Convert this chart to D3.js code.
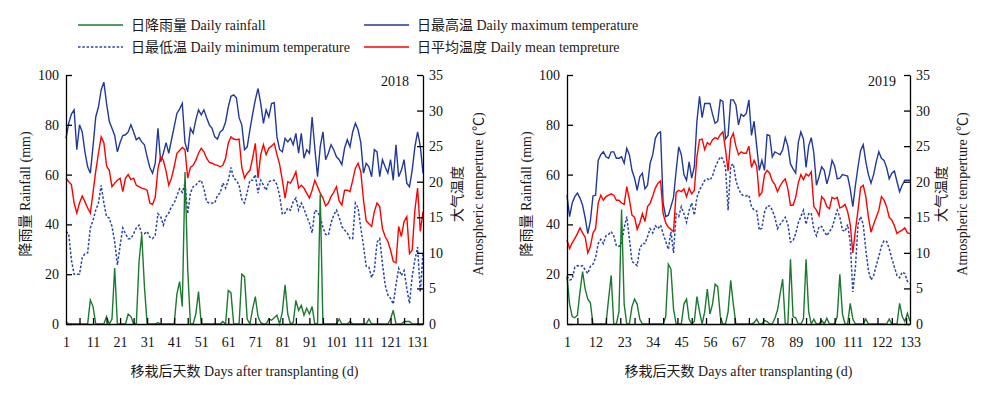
<!DOCTYPE html>
<html>
<head>
<meta charset="utf-8">
<title>Daily rainfall and temperature 2018 / 2019</title>
<script src="https://d3js.org/d3.v7.min.js"></script>
<style>
	body { margin: 0; background: #fff; }
	svg { display: block; font-family: "Liberation Serif", "Times New Roman", "Noto Sans CJK SC", serif; font-size: 14px; }
	.axis path, .axis line { stroke: #000; stroke-width: 1.3; }
	.axis text { font-family: "Liberation Serif", "Times New Roman", serif; font-size: 14px; fill: #111; }
	.lbl { fill: #1a1a1a; }
</style>
</head>
<body>
<svg id="chart" width="1000" height="397"></svg>
<script>
	// 2018 season, days after transplanting 1..133
	var rain18 = [1,0,0,0,0,0,0,0,0,9.6, 7,0,0,0,0,3,0,2,22.5,0, 0,0,0,4,3,0,0,25,36,15,
		0,0,0,0,0.5,0,0,0,0,0, 0,12,17,7,61,22,0,0,4,13, 0,0,0,0,0,0,0,0,1,0,
		13.5,12.5,0,0,0,20,19,2,0,6, 11,3,0.5,0,0,2,1.5,2.5,3.5,0, 5,15.7,4,0,0.5,9.5,5.5,7.5,3.5,6.3,
		4,7,0,0,52,0,0,0,0,0, 0,2,0,0,0,1,0,0,0,0, 0,0,2,0,0,0,0,0,0,0,
		2,5.5,0,0,0,1,1,1,0,0, 0,0,0];
	var tmax18 = [26.1,28.2,29.5,30.1,24.5,28.0,27.0,24.2,22.1,21.2, 25.0,29.1,30.5,32.9,34.0,31.0,28.5,27.5,26.5,24.2,
		25.5,26.5,26.6,27.0,28.0,27.0,25.9,26.2,25.6,25.2, 23.5,22.0,21.2,22.6,27.5,22.8,24.0,25.5,24.0,25.9,
		27.7,29.6,30.2,31.0,25.5,24.2,27.5,26.8,28.7,30.1, 29.4,30.1,29.0,28.0,27.5,26.3,26.0,27.0,27.3,28.4,
		30.5,32.0,32.2,31.8,29.0,28.0,24.5,24.9,27.3,29.5, 31.5,33.1,31.0,28.2,30.1,29.1,31.0,31.1,26.3,24.5,
		24.2,26.1,25.6,26.1,25.2,26.8,24.0,26.8,23.3,24.5, 24.0,29.1,24.7,20.7,24.9,27.0,23.1,24.0,25.2,24.5,
		23.5,23.1,22.4,24.7,25.9,24.9,27.0,28.2,27.3,25.5, 21.2,22.6,22.1,20.7,24.5,24.2,20.7,23.1,22.1,21.2,
		23.1,20.2,25.2,20.7,21.6,23.1,19.8,19.3,21.6,24.9, 27.0,25.0,21.2];
	var tmin18 = [13.0,12.7,9.0,7.0,7.0,7.0,9.3,9.9,10.0,13.5, 14.6,16.0,17.0,19.5,17.0,15.1,14.9,13.7,11.6,8.3,
		11.0,13.5,12.7,12.0,12.0,12.7,13.5,13.9,12.7,12.7, 13.0,12.2,12.0,12.5,15.5,15.1,13.9,15.1,15.6,16.5,
		17.0,18.0,19.0,18.5,19.8,15.5,18.4,19.3,19.5,20.0, 20.2,19.0,17.2,17.0,17.0,17.0,18.1,18.4,19.8,19.1,
		20.2,22.0,20.5,20.2,19.5,17.5,17.0,18.5,20.2,20.2, 21.0,18.4,20.2,19.5,18.8,20.0,20.2,20.2,19.6,18.0,
		15.4,15.6,16.3,16.0,17.2,17.7,16.0,17.0,16.2,15.1, 14.2,12.8,16.0,15.8,15.0,13.6,12.6,12.5,14.2,15.3,
		16.0,15.0,13.7,13.2,12.8,12.0,12.0,17.0,16.3,13.5, 11.0,8.1,8.0,6.5,7.5,11.5,12.0,8.5,5.5,4.1,
		3.6,2.8,5.5,7.8,6.8,7.5,5.0,2.9,6.7,9.0, 10.8,4.5,10.0];
	var tmean18 = [20.5,20.0,19.6,17.0,15.6,17.0,18.0,17.2,16.3,15.6, 18.5,21.5,24.0,26.3,25.5,22.2,21.6,19.3,19.8,20.2,
		20.5,18.6,20.5,21.0,20.3,20.5,19.5,19.3,19.1,19.0, 18.8,17.0,16.8,17.8,21.8,23.5,23.0,21.5,19.5,20.5,
		22.1,24.0,24.4,24.8,24.5,20.5,22.0,22.3,23.0,24.0, 24.7,24.2,23.3,22.7,22.6,22.4,22.3,22.1,22.3,23.3,
		25.4,26.3,26.0,25.9,26.0,22.0,20.5,21.2,21.6,23.3, 25.4,20.5,23.8,25.2,23.8,24.7,25.0,25.4,23.8,22.4,
		20.2,17.7,20.0,19.8,20.5,21.4,19.1,19.5,19.1,18.4, 17.7,18.8,20.2,19.3,18.4,17.7,16.6,17.0,17.9,18.5,
		19.3,17.3,16.7,18.8,18.8,18.6,20.2,21.9,22.6,21.4, 17.4,14.5,14.1,13.7,15.8,17.0,16.5,13.4,12.3,11.6,
		10.4,8.8,8.6,13.7,12.3,14.4,15.1,9.9,10.4,16.0, 19.1,13.0,15.8];
	var labels18 = [1, 11, 21, 31, 41, 51, 61, 71, 81, 91, 101, 111, 121, 131];

	// 2019 season, days after transplanting 1..133
	var rain19 = [19,8,3,2.5,3.5,13,21,14,10,8.5, 0,0,0,0,0,0,10,19.5,0,0, 5,46,8,0,0,7,10,8,2,0,
		0,0,0,0,0,0,0,0,3,24, 22,6,0,0,0,8,10,2,0,1, 11,5,0,5,14,4,8,16,15,3,
		0,0,5,17.5,8,0,0,0,0,0, 0,0,0.5,2,0,0,1.5,1,0,0, 2.3,5.5,12,18,0,0,26,3,2.5,0,
		0,2,26,5,0,1.9,0,0,1.5,0, 2.3,0,0,0,3,20,4,0,0,8.3, 2,0,0,0,0,2,0,0,0,0,
		0,0,0,0,2,0,0,0,8.3,3, 1,4.3,1];
	var tmax19 = [18.1,15.1,17.0,17.9,18.4,17.7,16.7,14.9,12.7,14.5, 18.0,18.1,23.0,23.8,24.2,23.5,23.3,24.2,24.2,23.3,
		23.3,23.5,22.6,24.7,23.8,21.6,20.5,18.8,20.7,21.2, 19.0,19.5,22.6,23.8,26.1,26.8,27.0,17.0,15.1,15.3,
		16.5,17.8,21.5,24.9,23.8,21.0,20.2,22.8,20.5,22.1, 28.5,32.0,29.0,31.0,31.0,31.0,29.5,28.2,28.5,31.5,
		31.3,26.0,26.5,31.5,31.5,30.8,28.0,29.5,29.2,29.6, 31.5,26.5,28.5,25.0,21.6,23.0,21.6,26.6,26.5,23.5,
		24.2,24.0,23.8,24.5,26.2,25.0,22.5,21.8,21.2,25.5, 27.0,26.0,22.0,25.0,26.2,24.0,19.5,20.7,22.1,21.6,
		19.7,21.0,23.0,22.2,20.4,20.5,21.0,20.9,20.8,19.0, 16.5,19.5,22.1,24.4,25.2,22.8,21.0,19.8,21.0,22.8,
		24.2,23.3,23.0,22.0,20.4,21.2,21.5,20.0,18.6,19.5, 20.2,20.2,20.2];
	var tmin19 = [6.7,6.2,6.3,8.0,8.2,8.1,8.2,7.6,7.1,8.1, 8.4,9.3,11.3,11.9,11.3,12.4,12.6,13.0,12.4,11.0,
		10.9,11.3,13.5,15.1,12.0,8.8,8.5,8.2,10.6,11.3, 11.3,12.3,13.4,12.8,13.8,13.4,13.9,12.7,11.6,10.5,
		13.0,10.0,15.5,15.1,16.5,15.5,14.3,16.0,17.0,15.3, 17.8,18.8,19.5,20.2,20.4,20.2,20.8,22.0,22.8,23.5,
		23.2,22.0,16.0,22.2,22.5,20.2,19.0,18.3,18.0,18.0, 18.1,16.5,16.0,15.9,13.2,13.5,15.7,16.6,16.6,16.0,
		15.0,13.4,14.0,14.5,15.0,14.0,11.5,11.7,12.7,14.2, 15.1,16.0,14.0,15.5,15.6,13.3,12.4,13.7,13.7,13.0,
		12.4,13.0,13.5,14.8,16.0,15.0,13.2,13.0,14.0,11.5, 4.5,8.0,14.0,15.1,14.0,10.4,7.5,6.2,6.8,8.2,
		9.5,10.9,11.7,11.6,10.6,9.2,8.0,6.8,6.5,7.3, 7.1,6.0,5.7];
	var tmean19 = [11.8,10.6,11.4,12.0,12.7,13.5,12.8,12.2,10.0,10.9, 12.8,13.4,17.0,18.1,17.4,17.9,18.1,18.3,18.1,17.4,
		17.4,17.0,16.8,19.3,17.5,15.3,15.0,13.3,14.2,15.5, 14.4,16.5,17.0,18.0,19.1,19.8,20.1,15.5,14.2,13.6,
		13.3,13.0,18.5,18.8,18.6,19.0,17.9,19.1,18.3,18.8, 23.5,25.9,26.0,24.5,25.5,25.2,25.9,26.2,26.0,26.6,
		27.0,24.5,21.5,26.0,26.8,25.0,23.8,24.2,24.0,24.0, 25.0,22.0,23.0,22.2,18.0,18.5,21.0,21.6,21.2,20.1,
		19.6,18.6,19.4,20.0,20.4,19.0,16.7,16.7,17.8,19.8, 21.0,20.3,21.1,20.8,21.4,16.5,16.0,15.2,17.9,17.5,
		16.5,16.2,17.8,17.6,17.8,16.3,16.5,16.8,15.8,14.0, 10.0,13.2,16.0,19.2,19.5,17.9,15.0,12.9,14.0,15.0,
		16.0,17.9,17.4,16.5,15.0,14.6,13.8,12.7,13.0,13.2, 13.5,12.8,12.7];
	var labels19 = [1, 12, 23, 34, 45, 56, 67, 78, 89, 100, 111, 122, 133];

	var rainTicks = [0, 20, 40, 60, 80, 100];
	var tempTicks = [0, 5, 10, 15, 20, 25, 30, 35];

	var colors = {rain: "#1b7a30", tmax: "#22399a", tmin: "#2a45a6", tmean: "#ff0000"};

	var svg = d3.select("#chart");
	svg.append("rect").attr("width", 1000).attr("height", 397).attr("fill", "#fff");

	var plotTop = 75, plotBottom = 324;

	// legend
	var legend = [
		{name: "日降雨量 Daily rainfall", key: "rain", x: 78, y: 25},
		{name: "日最高温 Daily maximum temperature", key: "tmax", x: 364, y: 25},
		{name: "日最低温 Daily minimum temperature", key: "tmin", x: 78, y: 47},
		{name: "日平均温度 Daily mean tempreture", key: "tmean", x: 364, y: 47}
	];
	var lg = svg.append("g").selectAll("g").data(legend).enter().append("g")
		.attr("transform", function(d) { return "translate(" + d.x + "," + d.y + ")"; });
	lg.append("line")
		.attr("x1", 0).attr("x2", 45)
		.attr("stroke", function(d) { return colors[d.key]; })
		.attr("stroke-width", 1.6)
		.attr("stroke-dasharray", function(d) { return d.key == "tmin" ? "2.5,1.8" : null; });
	lg.append("text")
		.attr("class", "lbl")
		.attr("x", 53).attr("dy", "0.35em")
		.text(function(d) { return d.name; });

	function panel(opt) {
		var n = opt.rain.length;
		var g = svg.append("g");

		var x = d3.scaleLinear().domain([1, n]).range([opt.left, opt.right]);
		var yR = d3.scaleLinear().domain([0, 100]).range([plotBottom, plotTop]);
		var yT = d3.scaleLinear().domain([0, 35]).range([plotBottom, plotTop]);

		var tline = d3.line()
			.x(function(d, i) { return x(i + 1); })
			.y(function(d) { return yT(d); });
		var rline = d3.line()
			.x(function(d, i) { return x(i + 1); })
			.y(function(d) { return yR(d); });

		g.append("path").datum(opt.tmin)
			.attr("fill", "none").attr("stroke", colors.tmin).attr("stroke-width", 1.5)
			.attr("stroke-dasharray", "2.5,1.8").attr("d", tline);
		g.append("path").datum(opt.tmax)
			.attr("fill", "none").attr("stroke", colors.tmax).attr("stroke-width", 1.4).attr("d", tline);
		g.append("path").datum(opt.tmean)
			.attr("fill", "none").attr("stroke", colors.tmean).attr("stroke-width", 1.4).attr("d", tline);
		g.append("path").datum(opt.rain)
			.attr("fill", "none").attr("stroke", colors.rain).attr("stroke-width", 1.4).attr("d", rline);

		// bottom axis with inward minor ticks
		g.append("g").attr("class", "axis")
			.attr("transform", "translate(0," + plotBottom + ")")
			.call(d3.axisBottom(x).tickValues(opt.minor).tickSizeInner(-6).tickSizeOuter(0).tickFormat(""));
		var xl = g.append("g").attr("class", "axis")
			.attr("transform", "translate(0," + plotBottom + ")")
			.call(d3.axisBottom(x).tickValues(opt.labels).tickSize(0).tickPadding(13).tickFormat(d3.format("d")));
		xl.select(".domain").remove();

		g.append("g").attr("class", "axis")
			.attr("transform", "translate(" + opt.left + ",0)")
			.call(d3.axisLeft(yR).tickValues(rainTicks).tickSizeInner(-6).tickSizeOuter(0).tickPadding(7));
		g.append("g").attr("class", "axis")
			.attr("transform", "translate(" + opt.right + ",0)")
			.call(d3.axisRight(yT).tickValues(tempTicks).tickSizeInner(-6).tickSizeOuter(0).tickPadding(6));

		// year tag
		g.append("text").attr("x", opt.right - 14).attr("y", 86)
			.attr("text-anchor", "end").attr("fill", "#111").text(opt.year);

		// axis titles
		var mid = 194;
		g.append("text").attr("class", "lbl")
			.attr("transform", "translate(" + (opt.left - 36) + "," + mid + ") rotate(-90)")
			.attr("text-anchor", "middle").text("降雨量 Rainfall (mm)");
		g.append("text").attr("class", "lbl")
			.attr("transform", "translate(" + (opt.right + opt.gap) + "," + mid + ") rotate(-90)")
			.attr("text-anchor", "middle").text("大气温度");
		g.append("text").attr("class", "lbl")
			.attr("transform", "translate(" + (opt.right + opt.gap + 21) + "," + mid + ") rotate(-90)")
			.attr("text-anchor", "middle").text("Atmospheric temperture (℃)");
		g.append("text").attr("class", "lbl")
			.attr("x", (opt.left + opt.right) / 2).attr("y", 376)
			.attr("text-anchor", "middle").text("移栽后天数 Days after transplanting (d)");
	}

	panel({year: "2018", left: 66, right: 423, gap: 39, rain: rain18, tmax: tmax18, tmin: tmin18, tmean: tmean18,
		labels: labels18, minor: d3.range(6, 132, 5)});
	panel({year: "2019", left: 567, right: 910, gap: 36, rain: rain19, tmax: tmax19, tmin: tmin19, tmean: tmean19,
		labels: labels19, minor: d3.range(5, 133, 5.5)});
</script>
</body>
</html>
